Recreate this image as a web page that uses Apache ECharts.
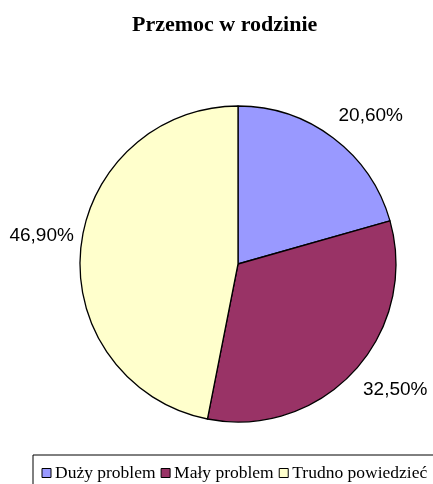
<!DOCTYPE html>
<html>
<head>
<meta charset="utf-8">
<script src="https://cdn.jsdelivr.net/npm/echarts@6/dist/echarts.min.js"></script>
<style>
html,body{margin:0;padding:0;background:#fff;}
#chart{width:433px;height:484px;}
</style>
</head>
<body>
<div id="chart"></div>
<script>
var titleText = 'Przemoc w rodzinie';
var categories = ['Duży problem', 'Mały problem', 'Trudno powiedzieć'];
var values = [20.6, 32.5, 46.9];
var colors = ['#9999FF', '#993366', '#FFFFCC'];

var labelShift = [[-16, -1], [-16, 0], [25, -10.5]];

var chart = echarts.init(document.getElementById('chart'));
chart.setOption({
  animation: false,
  backgroundColor: '#fff',
  title: {
    text: titleText,
    left: 132,
    top: 14,
    padding: 0,
    textStyle: {
      fontFamily: 'Liberation Serif',
      fontWeight: 'bold',
      fontSize: 22,
      color: '#000'
    }
  },
  legend: {
    data: categories,
    left: 33,
    top: 455,
    width: 420,
    orient: 'horizontal',
    padding: [9, 20, 12, 8.5],
    borderColor: '#000',
    borderWidth: 1,
    itemGap: 5,
    itemWidth: 9,
    itemHeight: 9,
    icon: 'rect',
    itemStyle: { borderColor: '#000', borderWidth: 1 },
    textStyle: {
      fontFamily: 'Liberation Serif',
      fontSize: 17.5,
      color: '#000',
      padding: [0, 0, 0, -1]
    }
  },
  series: [{
    type: 'pie',
    center: [238, 264],
    radius: 158,
    startAngle: 90,
    clockwise: true,
    avoidLabelOverlap: false,
    itemStyle: { borderColor: '#000', borderWidth: 1.3 },
    label: {
      show: true,
      position: 'outside',
      fontFamily: 'Liberation Sans',
      fontSize: 19,
      color: '#000',
      formatter: function (p) {
        return p.value.toFixed(2).replace('.', ',') + '%';
      }
    },
    labelLine: { show: false, length: 27, length2: 0 },
    labelLayout: function (p) {
      var s = labelShift[p.dataIndex];
      return { dx: s[0], dy: s[1] };
    },
    emphasis: { disabled: true },
    data: categories.map(function (c, i) {
      return { name: c, value: values[i], itemStyle: { color: colors[i] } };
    })
  }]
});
</script>
</body>
</html>
